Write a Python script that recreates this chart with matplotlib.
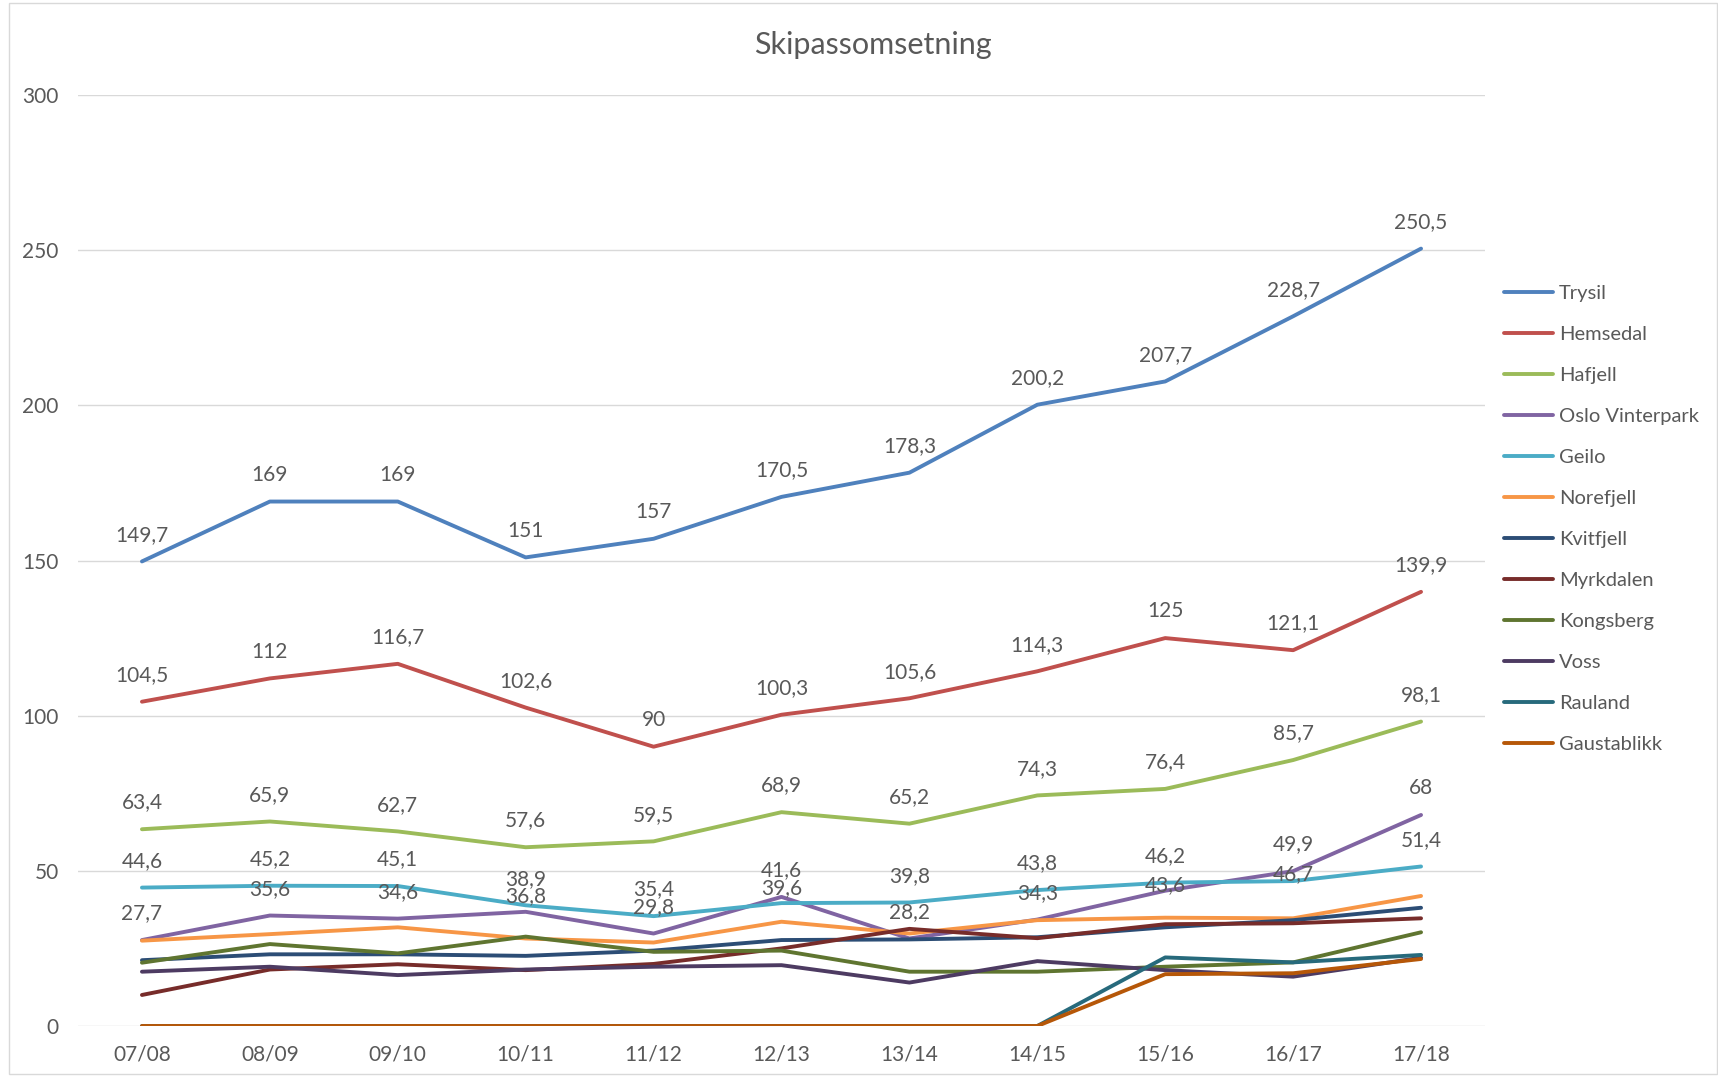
import matplotlib
matplotlib.use("Agg")
import matplotlib.pyplot as plt
from matplotlib.patches import Rectangle

seasons = ["07/08", "08/09", "09/10", "10/11", "11/12", "12/13", "13/14", "14/15", "15/16", "16/17", "17/18"]

trysil = [149.7, 169, 169, 151, 157, 170.5, 178.3, 200.2, 207.7, 228.7, 250.5]
hemsedal = [104.5, 112, 116.7, 102.6, 90, 100.3, 105.6, 114.3, 125, 121.1, 139.9]
hafjell = [63.4, 65.9, 62.7, 57.6, 59.5, 68.9, 65.2, 74.3, 76.4, 85.7, 98.1]
oslo_vinterpark = [27.7, 35.6, 34.6, 36.8, 29.8, 41.6, 28.2, 34.3, 43.6, 49.9, 68]
geilo = [44.6, 45.2, 45.1, 38.9, 35.4, 39.6, 39.8, 43.8, 46.2, 46.7, 51.4]
norefjell = [27.5, 29.6, 31.8, 28.2, 26.9, 33.6, 29.8, 34.1, 34.9, 34.7, 41.9]
kvitfjell = [21.2, 23.1, 23.1, 22.6, 24.3, 27.7, 27.9, 28.6, 31.8, 34.1, 38.1]
myrkdalen = [10.0, 18.2, 19.9, 18.0, 20.0, 25.0, 31.3, 28.3, 32.8, 33.1, 34.7]
kongsberg = [20.4, 26.4, 23.4, 28.8, 23.9, 24.3, 17.5, 17.5, 19.1, 20.5, 30.2]
voss = [17.5, 19.1, 16.4, 18.2, 19.1, 19.6, 14.0, 20.9, 18.0, 15.9, 22.0]
rauland = [0, 0, 0, 0, 0, 0, 0, 0, 22.1, 20.5, 22.9]
gaustablikk = [0, 0, 0, 0, 0, 0, 0, 0, 16.7, 17.0, 21.6]

series_names = ["Trysil", "Hemsedal", "Hafjell", "Oslo Vinterpark", "Geilo", "Norefjell",
                "Kvitfjell", "Myrkdalen", "Kongsberg", "Voss", "Rauland", "Gaustablikk"]
series_values = [trysil, hemsedal, hafjell, oslo_vinterpark, geilo, norefjell,
                 kvitfjell, myrkdalen, kongsberg, voss, rauland, gaustablikk]
colors = ["#4F81BD", "#C0504D", "#9BBB59", "#8064A2", "#4BACC6", "#F79646",
          "#2C4D75", "#772C2A", "#5F7530", "#4D3B62", "#276A7C", "#B65708"]
labelled = ["Trysil", "Hemsedal", "Hafjell", "Oslo Vinterpark", "Geilo"]

# label nudges (points) where the reference stacks crowded labels
label_nudge = {("Oslo Vinterpark", 3): -8, ("Geilo", 5): -8.5,
               ("Oslo Vinterpark", 8): -15.5, ("Geilo", 9): -14}

yticks = [0, 50, 100, 150, 200, 250, 300]

plt.rcParams['font.family'] = ['Lato', 'DejaVu Sans']
txt = "#595959"

fig = plt.figure(figsize=(17.18, 10.77), dpi=100)
ax = fig.add_axes([78/1718, 1 - 1026/1077, (1485 - 78)/1718, (1026 - 95)/1077])

x = list(range(len(seasons)))
for name, vals, c in zip(series_names, series_values, colors):
    ax.plot(x, vals, color=c, lw=2.8, label=name, solid_capstyle='round', zorder=3)

for name, vals in zip(series_names, series_values):
    if name in labelled:
        for xi, v in zip(x, vals):
            s = ("%g" % v).replace(".", ",")
            dy = 12 + label_nudge.get((name, xi), 0)
            ax.annotate(s, (xi, v), xytext=(0, dy), textcoords="offset points",
                        ha="center", va="bottom", fontsize=15, color=txt, zorder=4)

ax.set_xlim(-0.5, len(seasons) - 0.5)
ax.set_ylim(0, 300)
ax.set_yticks(yticks)
ax.set_yticklabels([str(t) for t in yticks])
ax.set_xticks(x)
ax.set_xticklabels(seasons)
ax.tick_params(axis='both', length=0, labelsize=15, labelcolor=txt)
ax.tick_params(axis='y', pad=14)
ax.tick_params(axis='x', pad=13.5)
ax.grid(axis='y', color="#D9D9D9", lw=1)
ax.set_axisbelow(True)
for sp in ax.spines.values():
    sp.set_visible(False)

fig.text(873/1718, 1 - 45/1077, "Skipassomsetning", ha="center", va="center",
         fontsize=22, color=txt)

leg = fig.legend(loc="upper left", bbox_to_anchor=(1504/1718, 1 - 284.5/1077),
                 frameon=False, fontsize=14.5, labelcolor=txt, handlelength=2.45,
                 handletextpad=0.28, labelspacing=1.19, borderpad=0, borderaxespad=0)

fig.patches.append(Rectangle((9/1718, 3/1077), 1 - 10/1718, 1 - 6/1077,
                             transform=fig.transFigure, fill=False,
                             edgecolor="#D9D9D9", lw=1))

fig.savefig("out.png", dpi=100)
